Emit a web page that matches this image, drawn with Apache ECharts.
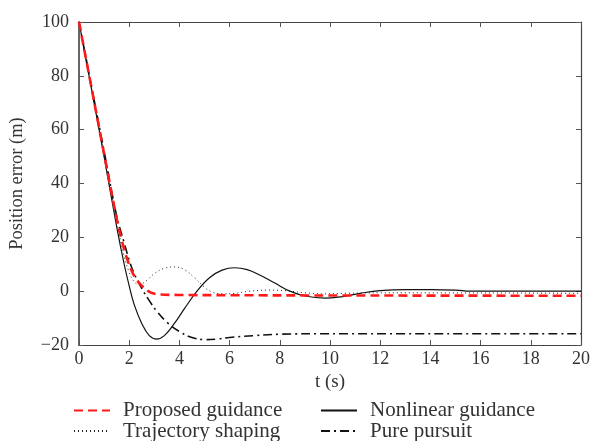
<!DOCTYPE html>
<html><head><meta charset="utf-8">
<script src="https://cdn.jsdelivr.net/npm/echarts@6/dist/echarts.min.js"></script>
<style>html,body{margin:0;padding:0;background:#fff}#c{width:593px;height:441px}</style>
</head><body><div id="c"></div>
<script>
var xTicks = [0, 20, 2];
var yTicks = [-20, 100, 20];

var proposedT = [0, 0.5, 1, 1.5, 1.7, 1.9, 2.1, 2.3, 2.5, 2.7, 2.9, 3.2, 4, 6, 10, 20];
var proposedV = [100, 75.5, 51, 27, 19, 12.5, 7.5, 4.2, 2, 0.4, -0.7, -1.2, -1.4, -1.5, -1.6, -1.7];

var nonlinearT = [0, 0.5, 1, 1.5, 1.8, 2.0, 2.2, 2.5, 2.8, 3.1, 3.4, 3.8, 4.2, 4.7, 5.2, 5.7, 6.2, 6.7, 7.2, 7.8, 8.4, 9.0, 9.8, 10.5, 11.2, 12, 13, 14, 15, 15.6, 16, 20];
var nonlinearV = [100, 75, 50, 24, 10, 2, -5, -12, -16.5, -17.8, -16.5, -12, -6.5, 0, 5, 7.8, 8.7, 8, 6, 3, 0, -1.8, -2.6, -2, -0.8, 0.2, 0.6, 0.6, 0.4, 0, 0, 0];

var shapingT = [0, 0.5, 1, 1.5, 1.8, 2.0, 2.2, 2.4, 2.7, 3.0, 3.4, 3.8, 4.2, 4.6, 5.0, 5.3, 5.7, 6.2, 6.8, 7.5, 8.2, 9, 9.8, 10.6, 12, 20];
var shapingV = [100, 75, 50.5, 26, 13, 7, 3.5, 2.5, 4, 6.5, 8.5, 9, 8, 5, 1.5, -0.3, -1, -0.8, 0, 0.4, 0.2, -0.6, -1, -0.8, -0.6, -0.8];

var pursuitT = [0, 0.5, 1, 1.5, 1.8, 2.0, 2.2, 2.5, 2.8, 3.1, 3.5, 4.0, 4.5, 5.0, 5.5, 6.0, 7.0, 8.0, 10, 20];
var pursuitV = [100, 76, 52, 28, 18, 11.5, 6.5, 1, -3.5, -7.5, -11.5, -15, -17.2, -18, -17.8, -17.2, -16.5, -16, -15.8, -15.8];

var names = ['Proposed guidance', 'Nonlinear guidance', 'Trajectory shaping', 'Pure pursuit'];

function pairs(t, v) { return t.map(function (x, i) { return [x, v[i]]; }); }

var FONT = 'Liberation Serif';
var txt = '#333';
function fmt(v) { return String(v).replace('-', '\u2212'); }

var chart = echarts.init(document.getElementById('c'), null, {renderer: 'canvas'});
var axisLine = {show: true, onZero: false, lineStyle: {color: '#444', width: 1.2}};
var tick = {show: true, inside: true, length: 5, lineStyle: {color: '#555'}};
function leg(name, left, top) {
  return {
    data: [name], left: left, top: top, padding: 0,
    itemWidth: 36, itemHeight: 12,
    itemStyle: {opacity: 0},
    textStyle: {fontFamily: FONT, fontSize: 21, lineHeight: 17, color: txt, padding: [0, 0, 0, 8]}
  };
}
chart.setOption({
  animation: false,
  backgroundColor: '#fff',
  grid: {left: 77, right: 9, top: 22, bottom: 96},
  xAxis: [{
    type: 'value', min: xTicks[0], max: xTicks[1], interval: xTicks[2],
    name: 't (s)', nameLocation: 'middle', nameGap: 26,
    nameTextStyle: {fontFamily: FONT, fontSize: 19, color: txt},
    axisLine: axisLine, axisTick: tick, splitLine: {show: false},
    axisLabel: {fontFamily: FONT, fontSize: 18, color: txt, margin: 5, formatter: fmt}
  }, {
    type: 'value', position: 'top', min: xTicks[0], max: xTicks[1], interval: xTicks[2],
    axisLine: axisLine, axisTick: tick, splitLine: {show: false}, axisLabel: {show: false}
  }],
  yAxis: [{
    type: 'value', min: yTicks[0], max: yTicks[1], interval: yTicks[2],
    name: 'Position error (m)', nameLocation: 'middle', nameGap: 52, nameRotate: 90,
    nameTextStyle: {fontFamily: FONT, fontSize: 18.5, color: txt},
    axisLine: {show: true, onZero: false, lineStyle: {color: '#666', width: 2}}, axisTick: tick, splitLine: {show: false},
    axisLabel: {fontFamily: FONT, fontSize: 18, color: txt, margin: 10, formatter: fmt}
  }, {
    type: 'value', position: 'right', min: yTicks[0], max: yTicks[1], interval: yTicks[2],
    axisLine: axisLine, axisTick: tick, splitLine: {show: false}, axisLabel: {show: false}
  }],
  legend: [
    leg(names[0], 73, 400),
    leg(names[2], 73, 420.5),
    leg(names[1], 320, 400),
    leg(names[3], 320, 420.5)
  ],
  series: [{
    name: names[2], type: 'line', symbol: 'none', z: 2,
    data: pairs(shapingT, shapingV), smooth: 0.4,
    itemStyle: {color: '#222'},
    lineStyle: {color: '#222', width: 1, type: [1, 3]}
  }, {
    name: names[1], type: 'line', symbol: 'none', z: 3,
    data: pairs(nonlinearT, nonlinearV), smooth: 0.4,
    itemStyle: {color: '#111'},
    lineStyle: {color: '#111', width: 1.2, type: 'solid'}
  }, {
    name: names[3], type: 'line', symbol: 'none', z: 4,
    data: pairs(pursuitT, pursuitV), smooth: 0.4,
    itemStyle: {color: '#111'},
    lineStyle: {color: '#111', width: 1.6, type: [9, 4, 2, 4]}
  }, {
    name: names[0], type: 'line', symbol: 'none', z: 5,
    data: pairs(proposedT, proposedV), smooth: 0.4,
    itemStyle: {color: '#ff1a1a'},
    lineStyle: {color: '#ff1a1a', width: 2.6, type: [9, 5]}
  }]
});
</script></body></html>
